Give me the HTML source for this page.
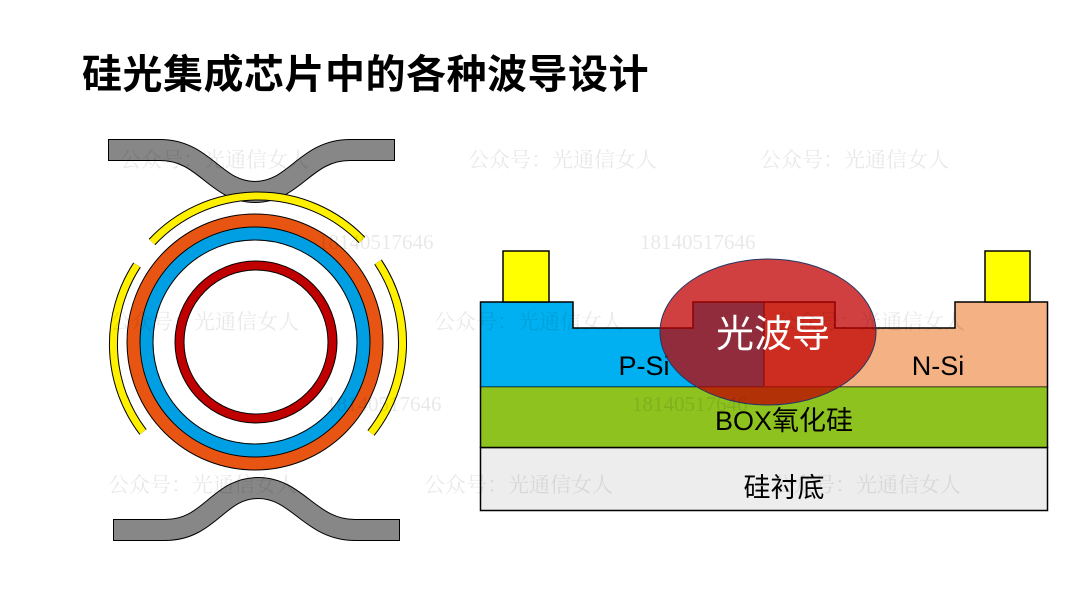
<!DOCTYPE html>
<html><head><meta charset="utf-8"><style>
body{margin:0;width:1080px;height:608px;background:#fff;overflow:hidden}
svg{display:block}
text{font-family:"Liberation Sans","Noto Sans CJK SC",sans-serif}
.wm{font-family:"Liberation Serif","Noto Serif CJK SC",serif;fill:#000;fill-opacity:0.09;font-size:21px}
</style></head><body>
<svg width="1080" height="608" viewBox="0 0 1080 608">
<text x="82" y="88" font-size="40" font-weight="bold" letter-spacing="0.5" fill="#000">硅光集成芯片中的各种波导设计</text>

<!-- waveguides -->
<path d="M108,150 L160,150 C205,150 215,192 255,192 C295,192 305,150 350,150 L395,150" fill="none" stroke="#000" stroke-width="22"/>
<path d="M109,150 L160,150 C205,150 215,192 255,192 C295,192 305,150 350,150 L394,150" fill="none" stroke="#878787" stroke-width="20"/>
<path d="M113,530 L165,530 C210,530 218,488 258,488 C298,488 310,530 355,530 L400,530" fill="none" stroke="#000" stroke-width="22"/>
<path d="M114,530 L165,530 C210,530 218,488 258,488 C298,488 310,530 355,530 L399,530" fill="none" stroke="#878787" stroke-width="20"/>

<!-- yellow arcs -->
<g fill="none">
<path d="M152,242 A145,145 0 0 1 362,240" stroke="#000" stroke-width="9"/>
<path d="M152,242 A145,145 0 0 1 362,240" stroke="#FFF000" stroke-width="7"/>
<path d="M137,265 A145,145 0 0 0 143,432" stroke="#000" stroke-width="9"/>
<path d="M137,265 A145,145 0 0 0 143,432" stroke="#FFF000" stroke-width="7"/>
<path d="M378,262 A145,145 0 0 1 371,433" stroke="#000" stroke-width="9"/>
<path d="M378,262 A145,145 0 0 1 371,433" stroke="#FFF000" stroke-width="7"/>
</g>
<!-- rings -->
<circle cx="255" cy="342" r="128" fill="#E85513" stroke="#000" stroke-width="1"/>
<circle cx="255" cy="342" r="115" fill="#009FE3" stroke="#000" stroke-width="1"/>
<circle cx="255" cy="342" r="102" fill="#fff" stroke="#000" stroke-width="1"/>
<circle cx="256" cy="342" r="81" fill="#C00000" stroke="#000" stroke-width="1"/>
<circle cx="256" cy="342" r="72" fill="#fff" stroke="#000" stroke-width="1"/>

<!-- right cross-section -->
<rect x="480.5" y="447.5" width="567" height="63" fill="#EDEDED" stroke="#000" stroke-width="1.5"/>
<rect x="480.5" y="386.5" width="567" height="61" fill="#8DC21F" stroke="#000" stroke-width="1.5"/>
<path d="M480.5,386.5 L480.5,302 L573,302 L573,328 L693,328 L693,302 L764,302 L764,386.5 Z" fill="#00B0F0"/>
<path d="M764,386.5 L764,302 L835,302 L835,328 L955,328 L955,302 L1047.5,302 L1047.5,386.5 Z" fill="#F4B183"/>
<path d="M480.5,386.5 L480.5,302 L573,302 L573,328 L693,328 L693,302 L835,302 L835,328 L955,328 L955,302 L1047.5,302 L1047.5,386.5" fill="none" stroke="#000" stroke-width="1.5"/>
<rect x="503" y="251" width="46" height="51" fill="#FFFF00" stroke="#000" stroke-width="1.5"/>
<rect x="985" y="251" width="45" height="51" fill="#FFFF00" stroke="#000" stroke-width="1.5"/>
<line x1="764" y1="302" x2="764" y2="386" stroke="#000" stroke-width="1"/>
<text x="644" y="375" font-size="27" text-anchor="middle" fill="#000">P-Si</text>
<text x="938" y="375" font-size="27" text-anchor="middle" fill="#000">N-Si</text>
<text x="784" y="430" font-size="27" text-anchor="middle" fill="#000">BOX氧化硅</text>
<text x="784" y="497" font-size="27" text-anchor="middle" fill="#000">硅衬底</text>
<ellipse cx="768" cy="332" rx="108" ry="73" fill="#C00000" fill-opacity="0.75" stroke="#1F3864" stroke-width="1"/>
<text x="773" y="347" font-size="38" text-anchor="middle" fill="#fff">光波导</text>

<!-- watermarks -->
<text class="wm" x="120" y="167">公众号：光通信女人</text>
<text class="wm" x="468" y="167">公众号：光通信女人</text>
<text class="wm" x="760" y="167">公众号：光通信女人</text>
<text class="wm" x="318" y="249">18140517646</text>
<text class="wm" x="640" y="249">18140517646</text>
<text class="wm" x="110" y="329">公众号：光通信女人</text>
<text class="wm" x="434" y="329">公众号：光通信女人</text>
<text class="wm" x="776" y="329">公众号：光通信女人</text>
<text class="wm" x="326" y="411">18140517646</text>
<text class="wm" x="632" y="411">18140517646</text>
<text class="wm" x="108" y="492">公众号：光通信女人</text>
<text class="wm" x="424" y="492">公众号：光通信女人</text>
<text class="wm" x="772" y="492">公众号：光通信女人</text>
</svg>
</body></html>
